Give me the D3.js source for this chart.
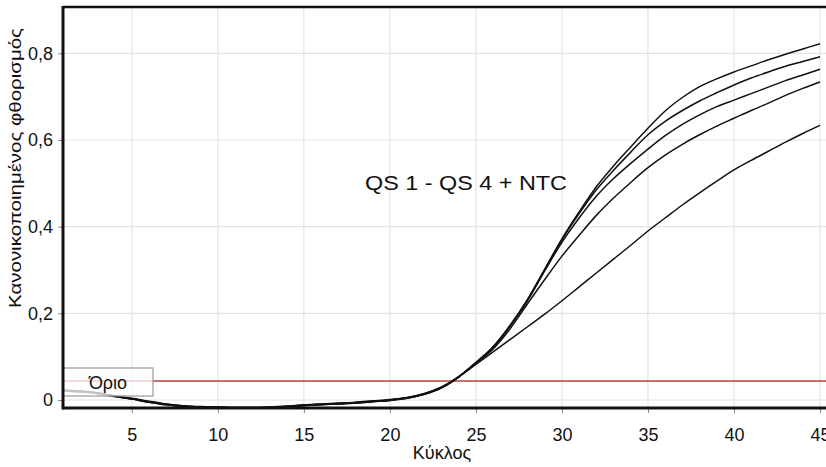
<!DOCTYPE html>
<html>
<head>
<meta charset="utf-8">
<script src="https://cdn.jsdelivr.net/npm/d3@7"></script>
<style>
  body { margin: 0; background: #fff; }
  svg text { font-family: "Liberation Sans", Arial, sans-serif; fill: #111; }
</style>
</head>
<body>
<div id="chart"></div>
<script>
'use strict';

// cycles 1..45
const cycles = d3.range(1, 46);

// normalised fluorescence
const qs_a = [0.023, 0.021, 0.017, 0.010, 0.004, -0.003, -0.009, -0.013, -0.015, -0.016, -0.017, -0.017, -0.016, -0.014, -0.011, -0.009, -0.007, -0.005, -0.002, 0.001, 0.006, 0.015, 0.030,
  0.054, 0.087, 0.123, 0.173, 0.232, 0.302, 0.372, 0.434, 0.492, 0.540, 0.584, 0.627, 0.667, 0.698, 0.723, 0.741, 0.757, 0.771, 0.785, 0.798, 0.810, 0.822];
const qs_b = [0.022, 0.020, 0.016, 0.009, 0.003, -0.004, -0.010, -0.014, -0.016, -0.017, -0.018, -0.018, -0.017, -0.015, -0.012, -0.010, -0.008, -0.006, -0.003, 0.000, 0.005, 0.014, 0.029,
  0.054, 0.086, 0.122, 0.172, 0.231, 0.301, 0.370, 0.430, 0.485, 0.530, 0.572, 0.612, 0.643, 0.668, 0.690, 0.709, 0.727, 0.743, 0.757, 0.770, 0.781, 0.792];
const qs_c = [0.021, 0.019, 0.015, 0.008, 0.002, -0.005, -0.011, -0.015, -0.017, -0.018, -0.019, -0.019, -0.018, -0.016, -0.013, -0.011, -0.009, -0.007, -0.004, -0.001, 0.004, 0.013, 0.028,
  0.053, 0.086, 0.121, 0.171, 0.229, 0.298, 0.364, 0.420, 0.470, 0.511, 0.546, 0.579, 0.610, 0.636, 0.658, 0.677, 0.692, 0.707, 0.722, 0.737, 0.750, 0.763];
const qs_d = [0.022, 0.020, 0.016, 0.009, 0.003, -0.004, -0.010, -0.014, -0.016, -0.017, -0.018, -0.018, -0.017, -0.015, -0.012, -0.010, -0.008, -0.006, -0.003, 0.000, 0.005, 0.014, 0.029,
  0.053, 0.085, 0.118, 0.165, 0.222, 0.278, 0.332, 0.380, 0.426, 0.466, 0.502, 0.536, 0.565, 0.590, 0.612, 0.632, 0.650, 0.668, 0.685, 0.703, 0.719, 0.734];
const qs_e = [0.021, 0.019, 0.015, 0.008, 0.002, -0.005, -0.011, -0.015, -0.017, -0.018, -0.019, -0.019, -0.018, -0.016, -0.013, -0.011, -0.009, -0.007, -0.004, -0.001, 0.004, 0.013, 0.028,
  0.053, 0.082, 0.111, 0.140, 0.169, 0.198, 0.229, 0.261, 0.293, 0.325, 0.357, 0.390, 0.420, 0.450, 0.478, 0.505, 0.531, 0.553, 0.574, 0.595, 0.615, 0.634];
const series = [qs_a, qs_b, qs_c, qs_d, qs_e];

const threshold = 0.044;
const xTicks = [5, 10, 15, 20, 25, 30, 35, 40, 45];
const yTicks = [0, 0.2, 0.4, 0.6, 0.8];
const xTitle = "Κύκλος";
const yTitle = "Κανονικοποιημένος φθορισμός";
const noteText = "QS 1 - QS 4 + NTC";
const thresholdLabel = "Όριο";

const width = 826, height = 467;
const plot = { left: 63, right: 826, top: 7, bottom: 408 };

const svg = d3.select("#chart").append("svg")
    .attr("width", width)
    .attr("height", height);

const xScale = d3.scaleLinear().domain([1, 45]).range([63, 820]);
const yScale = d3.scaleLinear().domain([0, 0.8]).range([400, 53.3]);

// grid
svg.append("g").selectAll("line.vg")
    .data(xTicks)
    .join("line")
    .attr("x1", d => xScale(d)).attr("x2", d => xScale(d))
    .attr("y1", plot.top).attr("y2", plot.bottom)
    .attr("stroke", "#e4e4e4").attr("stroke-width", 1.2);
svg.append("g").selectAll("line.hg")
    .data(yTicks)
    .join("line")
    .attr("x1", plot.left).attr("x2", plot.right)
    .attr("y1", d => yScale(d)).attr("y2", d => yScale(d))
    .attr("stroke", "#e4e4e4").attr("stroke-width", 1.2);

// threshold
svg.append("line")
    .attr("x1", plot.left).attr("x2", plot.right)
    .attr("y1", yScale(threshold)).attr("y2", yScale(threshold))
    .attr("stroke", "#b5403d").attr("stroke-width", 1.6);

// curves
const line = d3.line()
    .x((d, i) => xScale(cycles[i]))
    .y(d => yScale(d))
    .curve(d3.curveMonotoneX);

svg.append("g").selectAll("path")
    .data(series)
    .join("path")
    .attr("d", d => line(d))
    .attr("fill", "none")
    .attr("stroke", "#111")
    .attr("stroke-width", 1.5);

// threshold label box
svg.append("rect")
    .attr("x", plot.left).attr("y", 368)
    .attr("width", 90).attr("height", 28)
    .attr("fill", "#fff").attr("fill-opacity", 0.75)
    .attr("stroke", "#9a9a9a").attr("stroke-width", 1.2);
svg.append("text")
    .attr("x", 108).attr("y", 389)
    .attr("text-anchor", "middle")
    .attr("font-size", 18)
    .text(thresholdLabel);

// axes
const fmt = d => d === 0 ? "0" : d3.format(".1f")(d).replace(".", ",");

const yAxis = svg.append("g")
    .attr("transform", `translate(${plot.left},0)`)
    .call(d3.axisLeft(yScale).tickValues(yTicks).tickSize(5).tickPadding(5).tickFormat(fmt));
const xAxis = svg.append("g")
    .attr("transform", `translate(0,${plot.bottom})`)
    .call(d3.axisBottom(xScale).tickValues(xTicks).tickSize(5).tickPadding(15).tickFormat(d3.format("d")));

[xAxis, yAxis].forEach(g => {
    g.select(".domain").remove();
    g.selectAll(".tick line").attr("stroke", "#888");
    g.selectAll(".tick text")
        .attr("font-size", 18)
        .attr("font-family", "'Liberation Sans', Arial, sans-serif")
        .attr("fill", "#111");
});

// frame
svg.append("line")
    .attr("x1", plot.left).attr("x2", plot.right)
    .attr("y1", plot.top).attr("y2", plot.top)
    .attr("stroke", "#111").attr("stroke-width", 2.5);
svg.append("line")
    .attr("x1", plot.left).attr("x2", plot.left)
    .attr("y1", plot.top - 1).attr("y2", plot.bottom + 1.5)
    .attr("stroke", "#111").attr("stroke-width", 3);
svg.append("line")
    .attr("x1", plot.left).attr("x2", plot.right)
    .attr("y1", plot.bottom).attr("y2", plot.bottom)
    .attr("stroke", "#111").attr("stroke-width", 3);

// titles
svg.append("text")
    .attr("x", 442).attr("y", 459)
    .attr("text-anchor", "middle")
    .attr("font-size", 18)
    .text(xTitle);

svg.append("text")
    .attr("transform", "translate(21,168) rotate(-90)")
    .attr("text-anchor", "middle")
    .attr("font-size", 17)
    .attr("textLength", 280)
    .attr("lengthAdjust", "spacingAndGlyphs")
    .text(yTitle);

svg.append("text")
    .attr("x", 365).attr("y", 190)
    .attr("font-size", 20)
    .attr("textLength", 202)
    .attr("lengthAdjust", "spacingAndGlyphs")
    .text(noteText);
</script>
</body>
</html>
